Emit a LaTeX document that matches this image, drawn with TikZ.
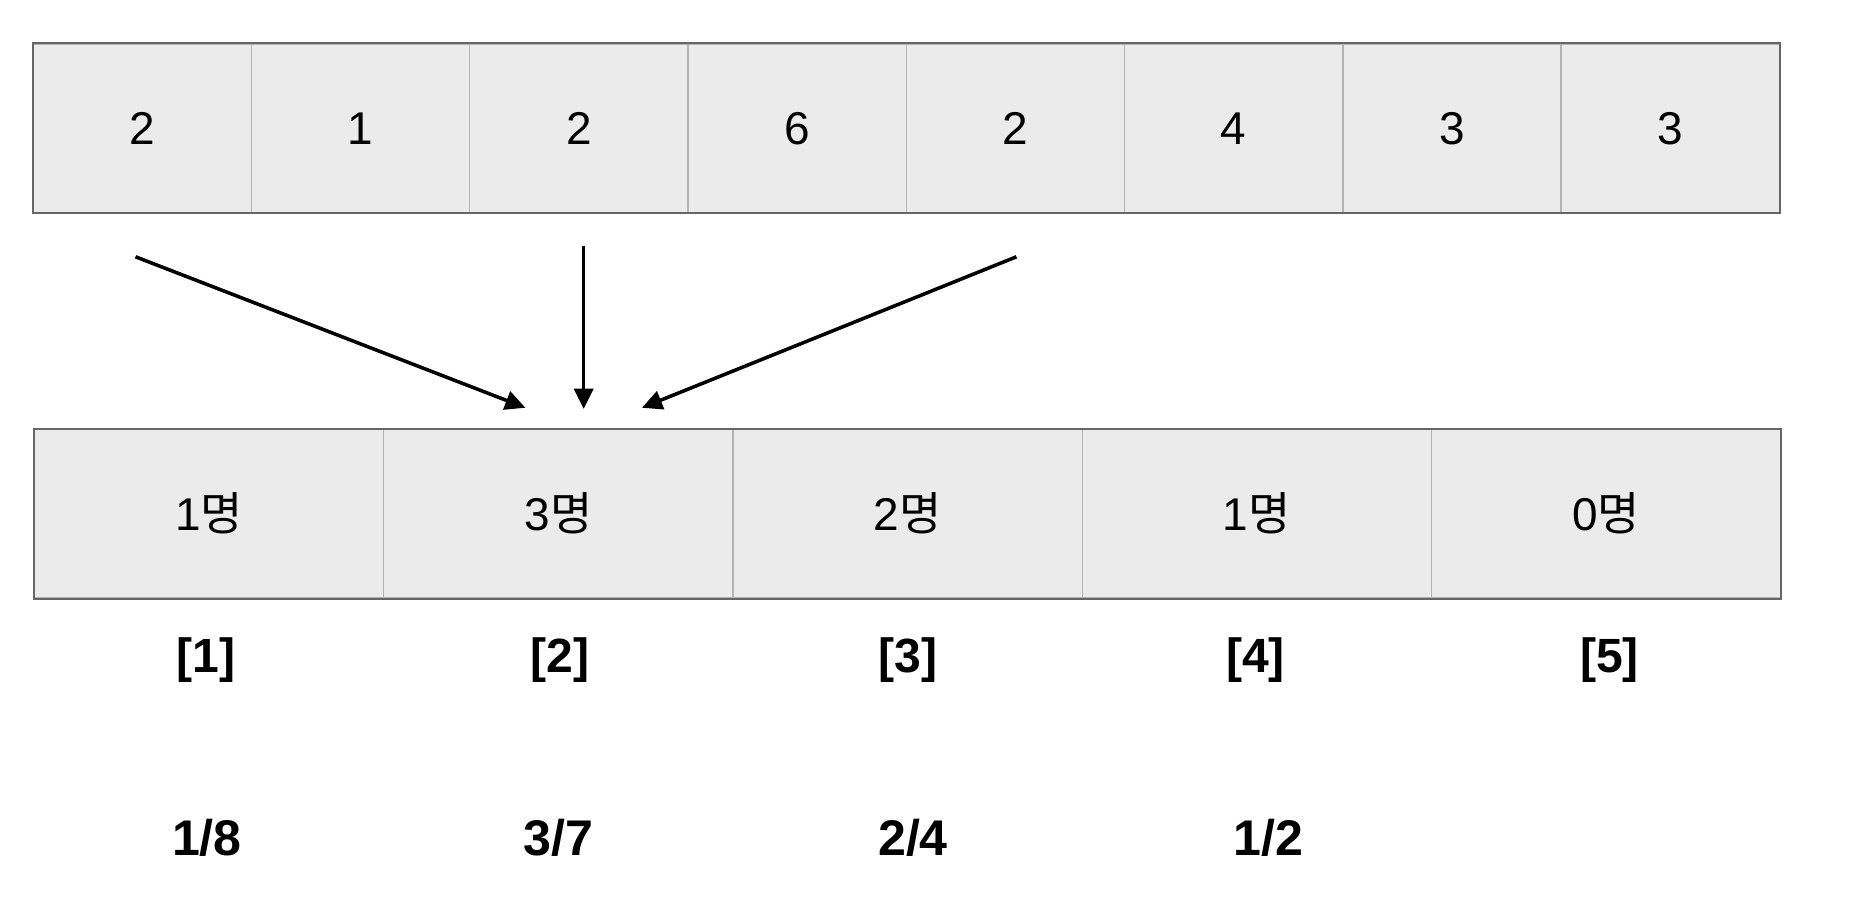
\documentclass[tikz,border=0pt]{standalone}
\usepackage{fontspec}
\setmainfont{Liberation Sans}
\newfontfamily\krfont{Noto Sans CJK KR}
\usetikzlibrary{arrows.meta}
\definecolor{cellfill}{HTML}{EBEBEB}
\definecolor{outline}{HTML}{666666}
\definecolor{divider}{HTML}{B3B3B3}
\tikzset{
  topcell/.style={draw=divider, fill=cellfill, line width=0.6pt, inner sep=0pt,
    minimum width=3.672cm, minimum height=2.84cm, font=\fontsize{22}{22}\selectfont},
  botcell/.style={topcell, minimum width=5.876cm},
  idx/.style={font=\fontsize{23}{23}\selectfont\bfseries},
  frac/.style={font=\fontsize{24}{24}\selectfont\bfseries},
  arr/.style={line width=1.7pt, -{Triangle[length=0.34cm,width=0.32cm]}}
}
\begin{document}
\begin{tikzpicture}[x=0.02cm, y=-0.02cm]
\useasboundingbox (0,0) rectangle (1568,772);

% top row
\foreach \i/\v in {1/2,2/1,3/2,4/6,5/2,6/4,7/3,8/3}
{
\node[topcell] (t\i) at ({28+183.6*(\i-0.5)},108) {\v};
}
\draw[outline, line width=1pt] (t1.north west) rectangle (t8.south east);

% bottom row
\foreach \i/\v in {1/1,2/3,3/2,4/1,5/0}
{
\node[botcell] (b\i) at ({29+293.8*(\i-0.5)},432) {\v\krfont 명};
}
\draw[outline, line width=1pt] (b1.north west) rectangle (b5.south east);

\foreach \i/\x in {1/173,2/471,3/764,4/1056,5/1354}
{
\node[idx] (l\i) at (\x,555) {[\i]};
}
\foreach \i/\x/\f in {1/174/{1/8},2/470/{3/7},3/768/{2/4},4/1067/{1/2}}
{
\node[frac] (f\i) at (\x,705) {\f};
}

% arrows
\coordinate (s1) at (114,216);
\coordinate (s2) at (491,207);
\coordinate (s3) at (855,216);
\coordinate (e1) at (442,343);
\coordinate (e2) at (491,344);
\coordinate (e3) at (540,343);
\draw[arr] (s1) -- (e1);
\draw[arr] (s2) -- (e2);
\draw[arr] (s3) -- (e3);
\end{tikzpicture}
\end{document}
